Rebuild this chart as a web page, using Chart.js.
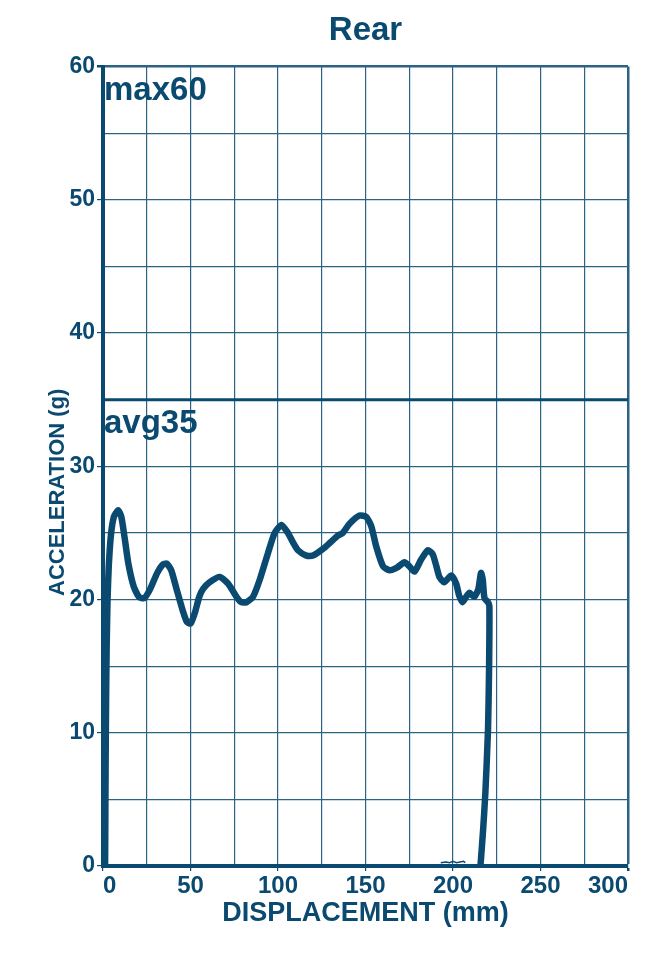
<!DOCTYPE html>
<html>
<head>
<meta charset="utf-8">
<title>Rear</title>
<script src="https://cdn.jsdelivr.net/npm/chart.js@4/dist/chart.umd.min.js"></script>
<style>
  html, body { margin: 0; padding: 0; background: #fff; }
  #chart { display: block; }
</style>
</head>
<body>
<canvas id="chart" width="660" height="956"></canvas>
<script>
const INK = "#0b4a70";
const GRID = "#2c6385";
const FONT = "'Liberation Sans', Arial, sans-serif";

// displacement (mm) / acceleration (g)
const dispMm = [
  1.2, 1.5, 1.8, 2.1, 2.6, 3.3, 4.5, 6.2, 8.7, 10.5,
  12.5, 14.5, 17.5, 20.5, 23.6, 27, 31, 34, 36.4, 39,
  42, 45.5, 48, 50.1, 52.5, 55, 57.2, 61, 66.7, 71.5,
  76.3, 79, 82, 85.7, 89.6, 94.3, 98.1, 102, 105.7, 108.5,
  111.4, 116.2, 120, 125.7, 130, 134.2, 137, 141, 146.6, 150.4,
  153.3, 156.1, 160, 163.7, 168, 172.3, 175, 178, 181.8, 185.6,
  188.4, 190.5, 192.2, 195, 199, 201.8, 203.5, 205.5, 207.5, 209.4,
  212.2, 214.5, 216, 217, 218, 220, 220.8, 220.6, 220, 218.5,
  217.2, 215.8
];
const accelG = [
  0, 7.7, 13, 16.5, 20, 22.5, 24.8, 26.2, 26.7, 26.2,
  24.5, 22.7, 21, 20.2, 20.1, 20.8, 22, 22.6, 22.7, 22.2,
  20.8, 19.2, 18.3, 18.2, 19, 20.2, 20.8, 21.3, 21.7, 21.2,
  20.2, 19.8, 19.8, 20.2, 21.5, 23.5, 25, 25.6, 25, 24.3,
  23.7, 23.3, 23.3, 23.8, 24.3, 24.8, 25, 25.7, 26.3, 26.2,
  25.5, 24, 22.5, 22.2, 22.4, 22.8, 22.5, 22.1, 23, 23.7,
  23.4, 22.5, 21.7, 21.3, 21.8, 21.2, 20.3, 19.8, 20.2, 20.5,
  20.2, 20.8, 22, 21.5, 20.1, 19.8, 19.5, 14.7, 10.2, 5.5,
  2.7, 0.2
];

// small noise along the baseline before the rebound
const noiseMm = [193, 196, 198, 200, 202, 204, 206, 207];
const noiseG = [0.25, 0.3, 0.25, 0.35, 0.25, 0.3, 0.35, 0.25];

// reference levels
const avgLevel = 35;
const maxLevel = 60;
const levelMm = [0, 300];

const xMin = 0, xMax = 300, xStep = 25, xLabelStep = 50;
const yMin = 0, yMax = 60, yStep = 5, yLabelStep = 10;

const toPoints = (xs, ys) => xs.map((x, i) => ({ x, y: ys[i] }));

const levelLabels = {
  id: "levelLabels",
  afterDatasetsDraw(chart) {
    const { ctx, scales, chartArea } = chart;
    const x = scales.x.getPixelForValue(xMin) + 1;
    ctx.save();
    ctx.fillStyle = INK;
    ctx.font = `bold 33px ${FONT}`;
    ctx.textAlign = "left";
    ctx.textBaseline = "alphabetic";
    ctx.fillText(`max${maxLevel}`, x, scales.y.getPixelForValue(maxLevel) + 33);
    ctx.fillText(`avg${avgLevel}`, x, scales.y.getPixelForValue(avgLevel) + 33);

    // y axis title, sits a little below the middle of the plot
    ctx.font = `bold 22px ${FONT}`;
    ctx.textAlign = "center";
    ctx.textBaseline = "middle";
    ctx.translate(58, (chartArea.top + chartArea.bottom) / 2 + 26);
    ctx.rotate(-Math.PI / 2);
    ctx.fillText("ACCELERATION (g)", 0, 0);
    ctx.restore();
  },
};

new Chart(document.getElementById("chart"), {
  type: "line",
  data: {
    datasets: [
      {
        label: "Rear",
        data: toPoints(dispMm, accelG),
        borderColor: INK,
        borderWidth: 6.5,
        borderJoinStyle: "round",
        borderCapStyle: "round",
        pointRadius: 0,
        tension: 0.2,
      },
      {
        label: "noise",
        data: toPoints(noiseMm, noiseG),
        borderColor: INK,
        borderWidth: 1.5,
        pointRadius: 0,
        tension: 0,
      },
      {
        label: "avg",
        data: toPoints(levelMm, [avgLevel, avgLevel]),
        borderColor: INK,
        borderWidth: 3,
        pointRadius: 0,
      },
    ],
  },
  options: {
    responsive: false,
    animation: false,
    layout: { padding: { left: 0, right: 32, top: 0, bottom: 0 } },
    plugins: {
      legend: { display: false },
      tooltip: { enabled: false },
      title: {
        display: true,
        text: "Rear",
        color: INK,
        fullSize: false,
        font: { family: FONT, size: 33, weight: "bold" },
        padding: { top: 11, bottom: 16 },
      },
    },
    scales: {
      x: {
        type: "linear",
        min: xMin,
        max: xMax,
        afterFit: (scale) => { scale.height = 90; },
        border: { display: true, color: INK, width: 4 },
        grid: {
          color: GRID,
          lineWidth: (c) => (c.tick && c.tick.value === xMax ? 2.5 : 1.2),
          tickLength: 5,
          tickColor: (c) => (c.tick && c.tick.value % xLabelStep === 0 ? INK : "rgba(0,0,0,0)"),
        },
        ticks: {
          stepSize: xStep,
          autoSkip: false,
          maxRotation: 0,
          align: "inner",
          padding: 1,
          color: INK,
          font: { family: FONT, size: 24, weight: "bold" },
          callback: (v) => (v % xLabelStep === 0 ? String(v) : ""),
        },
        title: {
          display: true,
          text: "DISPLACEMENT (mm)",
          color: INK,
          font: { family: FONT, size: 27, weight: "bold" },
          padding: { top: 0, bottom: 26 },
        },
      },
      y: {
        type: "linear",
        min: yMin,
        max: yMax,
        afterFit: (scale) => { scale.width = 103; },
        border: { display: true, color: INK, width: 4 },
        grid: {
          color: GRID,
          lineWidth: (c) => (c.tick && c.tick.value === yMax ? 2.5 : 1.2),
          tickLength: 6,
          tickColor: (c) => (c.tick && c.tick.value % yLabelStep === 0 ? INK : "rgba(0,0,0,0)"),
        },
        ticks: {
          stepSize: yStep,
          autoSkip: false,
          padding: 2,
          color: INK,
          font: { family: FONT, size: 23, weight: "bold" },
          callback: (v) => (v % yLabelStep === 0 ? String(v) : ""),
        },
      },
    },
  },
  plugins: [levelLabels],
});
</script>
</body>
</html>
